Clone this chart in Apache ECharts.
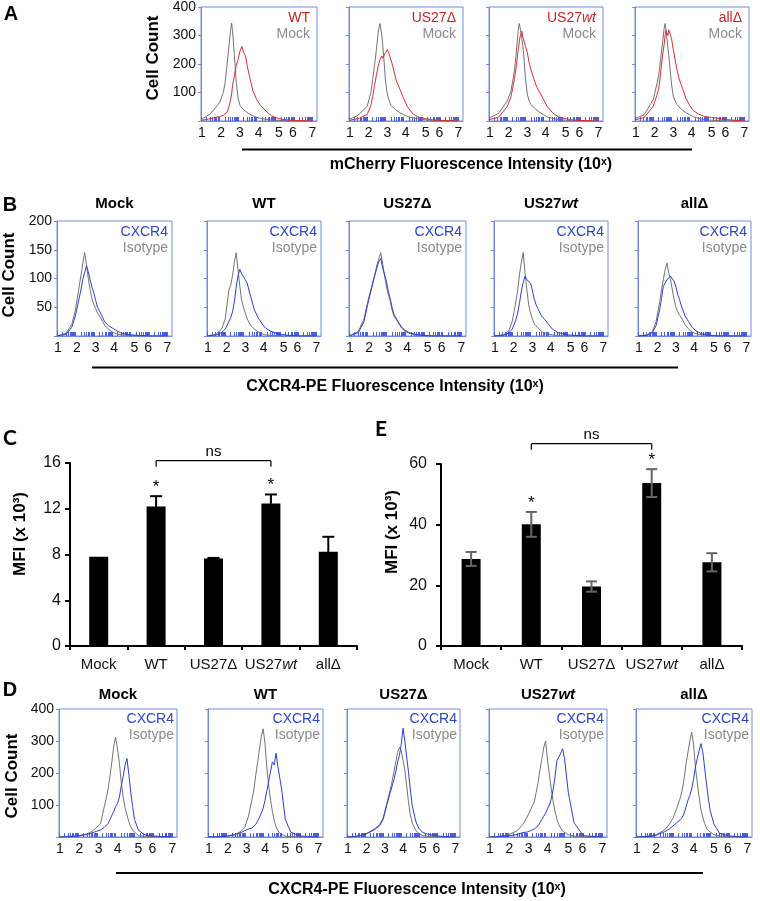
<!DOCTYPE html>
<html><head><meta charset="utf-8">
<script src="https://cdn.jsdelivr.net/npm/echarts@6/dist/echarts.min.js"></script>
<style>html,body{margin:0;padding:0;background:#fff}#c{width:760px;height:901px}</style>
</head><body><div id="c"></div>
<script>
// ---------------- DATA ----------------
const tickLabels = [1, 2, 3, 4, 5, 6, 7];
const labelPos = [1.05, 2.08, 3.1, 4.1, 5.2, 5.95, 7.0];

// Panel A (mCherry), x in log10 units
const xsA = [1.0, 1.5, 2.0, 2.2, 2.3, 2.4, 2.5, 2.6, 2.65, 2.7, 2.8, 2.85, 2.9, 3.0, 3.1, 3.2, 3.3, 3.4, 3.5, 3.6, 3.8, 4.0, 4.2, 4.5, 4.8, 5.2, 5.6, 6.0, 7.0];
const a1Mock = [5,25,64,100,135, 195,260,320,344,315, 230,180,135,80,55, 45,40,34,30,25, 18,13,9,6,4, 2,1,0,0];
const a1Virus = [2,8,16,20,24, 30,48,75,95,125, 160,180,195,215,245, 262,240,228,190,160, 105,75,55,35,18, 8,4,2,0];
const a2Mock = [5,20,52,100,146, 195,250,310,330,342, 300,265,230,140,95, 72,55,48,42,36, 29,22,16,11,7, 4,2,1,0];
const a2Virus = [2,8,23,55,87, 125,160,192,205,215, 228,220,225,240,251, 235,215,192,165,140, 110,78,50,25,14, 8,4,2,0];
const a3Mock = [11,25,70,105,140, 180,245,315,342,330, 290,265,235,150,95, 70,58,52,45,38, 29,22,14,9,5, 3,1,0,0];
const a3Virus = [5,12,50,85,115, 150,195,250,272,295, 315,295,285,262,240, 205,180,160,140,122, 98,74,50,28,15, 8,4,2,0];
const a4Mock = [8,22,75,130,160, 215,270,325,342,320, 260,230,200,130,87, 70,58,50,44,38, 29,22,15,9,5, 3,1,0,0];
const a4Virus = [4,12,52,90,115, 165,225,270,300,318, 300,320,325,290,251, 215,180,152,132,115, 78,55,36,24,16, 12,9,5,0];

// Panel B (CXCR4-PE, low)
const xsB = [1.0, 1.5, 1.8, 2.0, 2.2, 2.3, 2.4, 2.5, 2.6, 2.7, 2.8, 2.9, 3.0, 3.1, 3.2, 3.3, 3.4, 3.6, 3.8, 4.0, 4.2, 4.5, 5.0, 5.5, 6.0, 7.0];
const b1Iso = [0,5,20,45,85, 105,125,145,125,100, 80,65,55,48,40, 35,30,18,12,7, 4,2,1,0,0,0];
const b1Cx  = [0,3,15,35,65, 80,98,110,122,112, 98,85,75,62,50, 44,38,24,18,14, 10,5,2,1,0,0];
const b2Iso = [0,3,12,30,80, 88,105,128,145,115, 86,62,50,40,30, 24,18,12,7,4, 2,1,0,0,0,0];
const b2Cx  = [0,2,6,12,25, 32,42,60,85,105, 116,108,105,98,92, 80,68,45,32,22, 14,8,3,1,0,0];
const b3Iso = [0,8,30,60,85, 98,110,125,135,145, 125,105,85,72,62, 45,35,25,14,8, 5,2,1,0,0,0];
const b3Cx  = [0,6,25,55,82, 95,108,120,130,135, 118,116,95,78,65, 50,38,26,16,10, 6,3,1,0,0,0];
const b4Iso = [0,2,8,25,60, 80,108,128,145,110, 80,55,40,30,22, 18,14,8,5,3, 2,1,0,0,0,0];
const b4Cx  = [0,1,5,12,28, 40,58,78,93,104, 98,95,92,80,65, 55,48,35,28,20, 12,6,2,1,0,0];
const b5Iso = [0,2,8,25,60, 80,98,115,127,110, 98,80,63,50,42, 36,32,20,12,7, 4,2,1,0,0,0];
const b5Cx  = [0,1,6,18,46, 65,86,92,98,100, 104,102,95,85,72, 63,52,35,25,15, 9,4,1,0,0,0];

// Panel D (CXCR4-PE, high)
const xsD = [1.0, 1.5, 2.0, 2.5, 2.8, 3.0, 3.2, 3.4, 3.5, 3.6, 3.7, 3.8, 3.9, 4.0, 4.1, 4.2, 4.3, 4.4, 4.5, 4.6, 4.7, 4.8, 4.9, 5.0, 5.2, 5.5, 6.0, 7.0];
const d1Iso = [0,2,4,10,20, 30,42,95,120,150, 190,235,285,312,275, 230,170,125,92,69, 48,32,22,15,5, 2,1,0];
const d1Cx  = [0,1,3,8,14, 18,22,30,35,42, 55,68,80,95,105, 125,160,190,225,245, 195,140,95,55,22, 8,3,0];
const d2Iso = [0,1,3,8,18, 30,65,120,150,195, 235,275,315,338,290, 215,160,115,80,50, 32,20,12,8,3, 1,0,0];
const d2Cx  = [0,1,2,8,14, 20,25,28,32,40, 50,62,75,90,115, 145,175,205,235,225, 262,220,185,150,55, 15,3,0];
const d3Iso = [0,2,8,25,38, 60,105,150,175,205, 235,265,280,270,240, 210,160,110,70,45, 33,22,14,9,4, 2,0,0];
const d3Cx  = [0,2,8,22,35, 55,100,140,160,180, 205,235,255,290,340, 300,250,204,150,100, 75,50,35,25,14, 8,3,0];
const d4Iso = [0,2,6,20,40, 60,85,110,140,170, 210,245,280,300,240, 195,150,110,80,55, 38,28,18,12,7, 3,1,0];
const d4Cx  = [0,1,3,8,14, 15,20,25,30,35, 45,55,65,75,88, 100,120,150,190,240, 250,262,276,245,140, 45,4,0];
const d5Iso = [0,2,5,20,40, 60,90,125,150,185, 230,265,300,328,290, 220,170,125,85,62, 42,28,20,14,7, 3,1,0];
const d5Cx  = [0,1,4,15,25, 35,45,55,62,75, 95,115,130,150,180, 218,245,270,292,265, 215,165,120,82,40, 12,3,0];

// Panels C and E (bar charts)
const groups = ['Mock', 'WT', 'US27Δ', 'US27wt', 'allΔ'];
const cMFI = [7.8, 12.2, 7.65, 12.45, 8.25];
const cErr = [0, 0.9, 0.05, 0.8, 1.3];
const eMFI = [28.7, 40.1, 19.6, 53.7, 27.6];
const eErr = [2.3, 4.1, 1.7, 4.6, 3.0];
const cTicks = [0, 4, 8, 12, 16];
const eTicks = [0, 20, 40, 60];
const sigPairs = [1, 3];          // WT vs US27wt : ns
const cBracket = 16.2, eBracket = 66.7;

// ---------------- STYLE ----------------
const FF = "'Liberation Sans', Arial, Helvetica, sans-serif";
const FRAME = '#7389e6', RUG = '#4a5ee0';
const GRAYL = '#737373', RED = '#dc2a33', BLUE = '#2b3fd6';
const TGRAY = '#8a8a8a', TRED = '#cc1f29', TBLUE = '#2a44d2';
const XMAX = 7.25;
const rug = [];
for (let d = 1; d <= 6; d++) for (let k = 1; k <= 9; k++) rug.push(d + Math.log10(k));
rug.push(7);

const grids = [], xAxes = [], yAxes = [], series = [], G = [];

function T(x, y, text, o = {}) {
  G.push({type: 'text', x, y, rotation: o.rot || 0, silent: true, z: 100,
    style: {text, fill: o.color || '#000', fontSize: o.size || 14, fontWeight: o.weight || 'normal',
      fontFamily: o.family || FF, fontStyle: o.style || 'normal',
      align: o.align || 'center', verticalAlign: o.va || 'middle', rich: o.rich}});
}
function L(x1, y1, x2, y2, w, c) {
  G.push({type: 'line', silent: true, z: 100, shape: {x1, y1, x2, y2}, style: {stroke: c || '#000', lineWidth: w || 1}});
}
function groupText(name, size, weight, color) {
  if (name === 'US27wt') return {t: '{a|US27}{b|wt}', rich: {
    a: {fontSize: size, fontWeight: weight, fontFamily: FF, fill: color},
    b: {fontSize: size, fontWeight: weight, fontStyle: 'italic', fontFamily: FF, fill: color}}};
  return {t: name, rich: undefined};
}

function hist(box, ymax, yint, xs, base, col, colColor, showY) {
  const idx = grids.length;
  grids.push({left: box[0], top: box[1], width: box[2], height: box[3], show: true,
    borderColor: FRAME, borderWidth: 1, backgroundColor: 'transparent'});
  xAxes.push({gridIndex: idx, type: 'value', min: 1, max: XMAX,
    axisLine: {show: true, lineStyle: {color: FRAME, width: 1}}, splitLine: {show: false},
    axisTick: {show: true, inside: true, length: 4, customValues: rug, lineStyle: {color: RUG, width: 1}},
    axisLabel: {show: true, customValues: labelPos, formatter: v => String(tickLabels[labelPos.indexOf(v)] ?? Math.round(v)),
      margin: 5, color: '#111', fontSize: 14, fontFamily: FF}});
  yAxes.push({gridIndex: idx, type: 'value', min: 0, max: ymax, interval: yint,
    axisLine: {show: true, lineStyle: {color: FRAME, width: 1}}, splitLine: {show: false},
    axisTick: {show: true, length: 3, lineStyle: {color: FRAME}},
    axisLabel: {show: showY, formatter: v => v === 0 ? '' : String(v), margin: 5, color: '#111', fontSize: 14, fontFamily: FF}});
  series.push({type: 'line', xAxisIndex: idx, yAxisIndex: idx, data: xs.map((x, i) => [x, base[i]]),
    symbol: 'none', silent: true, lineStyle: {color: GRAYL, width: 1}});
  series.push({type: 'line', xAxisIndex: idx, yAxisIndex: idx, data: xs.map((x, i) => [x, col[i]]),
    symbol: 'none', silent: true, lineStyle: {color: colColor, width: 1}});
  return idx;
}

// ---- Row A ----
const aBoxes = [[201, 7, 116, 114], [349, 7, 114, 114], [489, 7, 114, 114], [635, 7, 114, 114]];
const aData = [[a1Mock, a1Virus], [a2Mock, a2Virus], [a3Mock, a3Virus], [a4Mock, a4Virus]];
const aNames = ['WT', 'US27Δ', 'US27wt', 'allΔ'];
aBoxes.forEach((b, i) => {
  hist(b, 400, 100, xsA, aData[i][0], aData[i][1], RED, i === 0);
  const r = b[0] + b[2] - 7;
  const g = groupText(aNames[i], 14, 'normal', TRED);
  T(r, b[1] + 11, g.t, {color: TRED, align: 'right', rich: g.rich});
  T(r, b[1] + 27, 'Mock', {color: TGRAY, align: 'right'});
});
// ---- Row B ----
const bBoxes = [[57, 221, 115, 115], [207, 221, 114, 115], [349, 221, 117, 115], [494, 221, 114, 115], [638, 221, 113, 115]];
const bData = [[b1Iso, b1Cx], [b2Iso, b2Cx], [b3Iso, b3Cx], [b4Iso, b4Cx], [b5Iso, b5Cx]];
bBoxes.forEach((b, i) => {
  hist(b, 200, 50, xsB, bData[i][0], bData[i][1], BLUE, i === 0);
  const r = b[0] + b[2] - 4;
  T(r, b[1] + 11, 'CXCR4', {color: TBLUE, align: 'right'});
  T(r, b[1] + 27, 'Isotype', {color: TGRAY, align: 'right'});
  const g = groupText(groups[i], 15, 'bold', '#000');
  T(b[0] + b[2] / 2, 204, g.t, {weight: 'bold', size: 15, rich: g.rich});
});
// ---- Row D ----
const dBoxes = [[59, 709, 118, 128], [208, 709, 115, 128], [347, 709, 113, 128], [489, 709, 118, 128], [636, 709, 116, 128]];
const dData = [[d1Iso, d1Cx], [d2Iso, d2Cx], [d3Iso, d3Cx], [d4Iso, d4Cx], [d5Iso, d5Cx]];
dBoxes.forEach((b, i) => {
  hist(b, 400, 100, xsD, dData[i][0], dData[i][1], BLUE, i === 0);
  const r = b[0] + b[2] - 3;
  T(r, b[1] + 10, 'CXCR4', {color: TBLUE, align: 'right'});
  T(r, b[1] + 26, 'Isotype', {color: TGRAY, align: 'right'});
  const g = groupText(groups[i], 15, 'bold', '#000');
  T(b[0] + b[2] / 2, 695, g.t, {weight: 'bold', size: 15, rich: g.rich});
});

// ---- Bar panels C & E ----
function barPanel(box, vals, errs, ticks, errColor, capW, yMargin) {
  const idx = grids.length;
  grids.push({left: box[0], top: box[1], width: box[2], height: box[3]});
  const catRich = {n: {fontSize: 15, fontFamily: FF, color: '#111'}, i: {fontSize: 15, fontFamily: FF, fontStyle: 'italic', color: '#111'}};
  xAxes.push({gridIndex: idx, type: 'category', data: groups, boundaryGap: true,
    axisLine: {show: true, lineStyle: {color: '#000', width: 2}},
    axisTick: {show: true, length: 4, alignWithLabel: false, interval: 0, lineStyle: {color: '#000', width: 2}},
    axisLabel: {margin: 11, interval: 0, hideOverlap: false,
      formatter: v => v === 'US27wt' ? '{n|US27}{i|wt}' : '{n|' + v + '}', rich: catRich}});
  yAxes.push({gridIndex: idx, type: 'value', min: ticks[0], max: ticks[ticks.length - 1], interval: ticks[1] - ticks[0],
    axisLine: {show: true, lineStyle: {color: '#000', width: 2}}, splitLine: {show: false},
    axisTick: {show: true, length: 5, lineStyle: {color: '#000', width: 2}},
    axisLabel: {margin: yMargin, fontSize: 16, fontFamily: FF, color: '#111'}});
  series.push({type: 'bar', xAxisIndex: idx, yAxisIndex: idx, data: vals, barWidth: 19, silent: true,
    itemStyle: {color: '#000'}});
  series.push({type: 'custom', xAxisIndex: idx, yAxisIndex: idx, silent: true, z: 10,
    data: vals.map((v, i) => [i, v, errs[i]]), encode: {x: 0, y: 1},
    renderItem(params, api) {
      const i = api.value(0), v = api.value(1), e = api.value(2);
      if (!e) return;
      const hi = api.coord([i, v + e]), lo = api.coord([i, v - e]), h = capW / 2;
      const st = {stroke: errColor, lineWidth: 2};
      return {type: 'group', children: [
        {type: 'line', shape: {x1: hi[0], y1: hi[1], x2: lo[0], y2: lo[1]}, style: st},
        {type: 'line', shape: {x1: hi[0] - h, y1: hi[1], x2: hi[0] + h, y2: hi[1]}, style: st},
        {type: 'line', shape: {x1: lo[0] - h, y1: lo[1], x2: lo[0] + h, y2: lo[1]}, style: st}]};
    }});
  return idx;
}
const cIdx = barPanel([70, 463, 287, 183], cMFI, cErr, cTicks, '#000', 12, 9);
const eIdx = barPanel([441, 464, 301, 182], eMFI, eErr, eTicks, '#666', 11, 14);

// ---- static texts / decorations ----
T(11, 14, 'A', {size: 20, weight: 'bold'});
T(10, 205, 'B', {size: 20, weight: 'bold'});
T(10, 690, 'D', {size: 20, weight: 'bold'});
T(10, 438, 'C', {size: 21, weight: 'bold', family: "Lato, 'Open Sans', sans-serif"});
T(381, 429, 'E', {size: 21, weight: 'bold', family: "Lato, 'Open Sans', sans-serif"});
T(153, 58, 'Cell Count', {size: 17, weight: 'bold', rot: Math.PI / 2});
T(9, 275, 'Cell Count', {size: 17, weight: 'bold', rot: Math.PI / 2});
T(12, 776, 'Cell Count', {size: 17, weight: 'bold', rot: Math.PI / 2});
T(20, 534, 'MFI (x 10³)', {size: 17, weight: 'bold', rot: Math.PI / 2});
T(392, 532, 'MFI (x 10³)', {size: 17, weight: 'bold', rot: Math.PI / 2});
L(242, 149.5, 692, 149.5, 2);
T(471, 165, 'mCherry Fluorescence Intensity (10ˣ)', {size: 16, weight: 'bold'});
L(92, 367.5, 678, 367.5, 2);
T(395, 387, 'CXCR4-PE Fluorescence Intensity (10ˣ)', {size: 16, weight: 'bold'});
L(116, 873, 703, 873, 2);
T(417, 890, 'CXCR4-PE Fluorescence Intensity (10ˣ)', {size: 16, weight: 'bold'});

const chart = echarts.init(document.getElementById('c'), null, {renderer: 'canvas'});
chart.setOption({animation: false, backgroundColor: '#fff', grid: grids, xAxis: xAxes, yAxis: yAxes, series});

// significance annotations derived from data through the axes
function annot(idx, vals, errs, level) {
  const p = (i, v) => chart.convertToPixel({xAxisIndex: idx, yAxisIndex: idx}, [i, v]);
  const a = p(sigPairs[0], level), b = p(sigPairs[1], level);
  L(a[0], a[1] + 6, a[0], a[1], 1.2); L(a[0], a[1], b[0], b[1], 1.2); L(b[0], b[1], b[0], b[1] + 6, 1.2);
  T((a[0] + b[0]) / 2, a[1] - 9, 'ns', {size: 15});
  sigPairs.forEach(i => {
    const s = p(i, vals[i] + errs[i]);
    T(s[0], s[1] - 9, '*', {size: 17});
  });
}
annot(cIdx, cMFI, cErr, cBracket);
annot(eIdx, eMFI, eErr, eBracket);
chart.setOption({graphic: G});
</script>
</body></html>
